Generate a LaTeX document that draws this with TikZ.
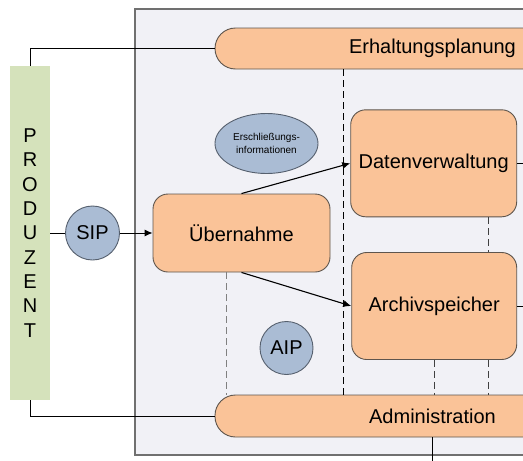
\documentclass[tikz,border=0pt]{standalone}
\usepackage{fontspec}
\setmainfont{Liberation Sans}
\usetikzlibrary{positioning}
\usetikzlibrary{shapes.geometric}
\usetikzlibrary{arrows.meta}

\definecolor{funktionfill}{HTML}{FAC398}
\definecolor{funktionline}{HTML}{5E554D}
\definecolor{paketfill}{HTML}{AABCD4}
\definecolor{paketline}{HTML}{56606E}
\definecolor{produzentfill}{HTML}{D5E2BB}
\definecolor{archivfill}{HTML}{F1F1F6}
\definecolor{archivline}{HTML}{707070}

\begin{document}
\begin{tikzpicture}[x=1pt, y=-1pt, >={Latex[length=8pt,width=7pt]},
  every node/.style={font=\fontsize{20}{24}\selectfont, inner sep=0pt},
  funktion/.style={draw=funktionline, fill=funktionfill, line width=0.9pt, rounded corners=15pt},
  balken/.style={funktion, rounded corners=20.5pt, minimum width=435, minimum height=41},
  paket/.style={draw=paketline, fill=paketfill, line width=0.9pt, circle, minimum size=54},
  trenn/.style={dashed, dash pattern=on 7pt off 4pt, line width=0.9pt}]
  \useasboundingbox (0,0) rectangle (523,461);

  % Knoten
  \node[draw=archivline, fill=archivfill, line width=1.3pt, minimum width=565, minimum height=446] (oais) at (417.5,232) {};
  \node[fill=produzentfill, minimum width=40, minimum height=334, align=center,
        font=\fontsize{20}{24.3}\selectfont] (produzent) at (30,233) {P\\R\\O\\D\\U\\Z\\E\\N\\T};
  \node[paket] (sip) at (92.5,233) {SIP};
  \node[funktion, minimum width=177, minimum height=78] (uebernahme) at (241.5,233) {Übernahme};
  \node[balken] (erhaltung) at (432.5,48.5) {Erhaltungsplanung};
  \node[balken, minimum height=42] (administration) at (432.5,416) {Administration};
  \node[funktion, minimum width=166, minimum height=107] (datenverwaltung) at (433.7,163.3) {Datenverwaltung};
  \node[funktion, minimum width=165, minimum height=107] (archivspeicher) at (434.2,306) {Archivspeicher};
  \node[paket, ellipse, minimum width=103, minimum height=60, align=center,
        font=\fontsize{10}{13}\selectfont] (erschliessung) at (266.5,143.5) {Erschließungs-\\informationen};
  \node[paket, minimum size=53] (aip) at (286.5,348) {AIP};

  \coordinate (trennlinks) at (226,0);
  \coordinate (trennmitte) at (343,0);
  \coordinate (trennrechts) at (488,0);
  \coordinate (dvrechts) at (540,163.3);
  \coordinate (asrechts) at (540,306);
  \coordinate (adminunten) at (432.5,475);

  % Kanten
  \draw[line width=0.9pt] (produzent.north) |- (erhaltung.west);
  \draw[line width=0.9pt] (produzent.south) |- (administration.west);
  \draw[line width=0.9pt] (produzent) -- (sip);
  \draw[->, line width=0.9pt] (sip) -- (uebernahme);
  \draw[->, line width=1.1pt] (uebernahme.north) -- (datenverwaltung.west);
  \draw[->, line width=1.1pt] (uebernahme.south) -- (archivspeicher.west);
  \draw[line width=0.9pt] (datenverwaltung.east) -- (dvrechts);
  \draw[line width=0.9pt] (archivspeicher.east) -- (asrechts);
  \draw[line width=0.9pt] (administration.south) -- (adminunten);

  % Trennlinien
  \draw[trenn] (erhaltung.south -| trennmitte) -- (administration.north -| trennmitte);
  \draw[trenn, draw=gray] (uebernahme.south -| trennlinks) -- (administration.north -| trennlinks);
  \draw[trenn, draw=darkgray] (datenverwaltung.south -| trennrechts) -- (archivspeicher.north -| trennrechts);
  \draw[trenn, draw=darkgray] (archivspeicher.south -| trennrechts) -- (administration.north -| trennrechts);
  \draw[trenn, draw=darkgray] (archivspeicher.south) -- (administration.north -| archivspeicher.south);
\end{tikzpicture}
\end{document}
